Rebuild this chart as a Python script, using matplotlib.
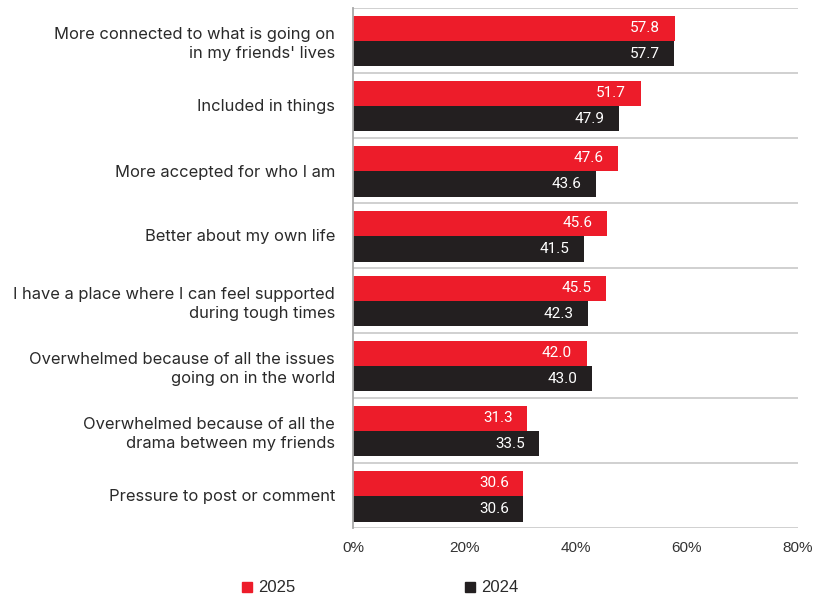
import matplotlib.pyplot as plt
from matplotlib.lines import Line2D
import numpy as np

categories = [
    "More connected to what is going on\nin my friends' lives",
    "Included in things",
    "More accepted for who I am",
    "Better about my own life",
    "I have a place where I can feel supported\nduring tough times",
    "Overwhelmed because of all the issues\ngoing on in the world",
    "Overwhelmed because of all the\ndrama between my friends",
    "Pressure to post or comment",
]
values_2025 = [57.8, 51.7, 47.6, 45.6, 45.5, 42.0, 31.3, 30.6]
values_2024 = [57.7, 47.9, 43.6, 41.5, 42.3, 43.0, 33.5, 30.6]
x_ticks = [0, 20, 40, 60, 80]

RED = '#ED1C2A'
BLACK = '#231F20'
GRID = '#C8C8C8'

fig = plt.figure(figsize=(8.24, 5.99), dpi=100)
ax = fig.add_axes([353 / 824, 1 - 528 / 599, 445 / 824, 520 / 599])

y = np.arange(len(categories))
h = 0.39
bars25 = ax.barh(y - h / 2 + 0.01, values_2025, height=h, color=RED)
bars24 = ax.barh(y + h / 2 + 0.01, values_2024, height=h, color=BLACK)

# value labels sit inside the bar ends
for bars, vals in ((bars25, values_2025), (bars24, values_2024)):
    for b, v in zip(bars, vals):
        ax.text(v - 2.6, b.get_y() + b.get_height() / 2, f"{v:.1f}",
                ha='right', va='center', color='white', fontsize=11,
                family='Roboto')

ax.set_xlim(0, 80)
ax.set_ylim(len(categories) - 0.5, -0.5)

# separators between the category groups
for yy in np.arange(-0.5, len(categories), 1.0):
    ax.axhline(yy, color=GRID, lw=1.2, zorder=0)

ax.set_xticks(x_ticks)
ax.set_xticklabels([f"{t}%" for t in x_ticks], fontsize=11, color='#333333',
                   family='Liberation Sans')
ax.set_yticks(y)
ax.set_yticklabels(categories, fontsize=11.9, color='#2A2A2A', family='Inter',
                   linespacing=1.3)
ax.tick_params(axis='both', length=0)
ax.tick_params(axis='x', pad=9)
ax.tick_params(axis='y', pad=13)

for side in ('top', 'right', 'bottom'):
    ax.spines[side].set_visible(False)
ax.spines['left'].set_color('#A8A8A8')
ax.spines['left'].set_linewidth(1.3)

handles = [
    Line2D([], [], marker='s', linestyle='none', color=RED, markersize=7),
    Line2D([], [], marker='s', linestyle='none', color=BLACK, markersize=7),
]
leg = fig.legend(handles, ['2025', '2024'], loc='center',
                 bbox_to_anchor=(380 / 824, 1 - 588 / 599), ncol=2,
                 frameon=False, handlelength=0.6,
                 handletextpad=0.35, columnspacing=10.2,
                 prop={'family': 'Liberation Sans', 'size': 12})
for t in leg.get_texts():
    t.set_color('#2A2A2A')

fig.savefig('out.png', dpi=100)
